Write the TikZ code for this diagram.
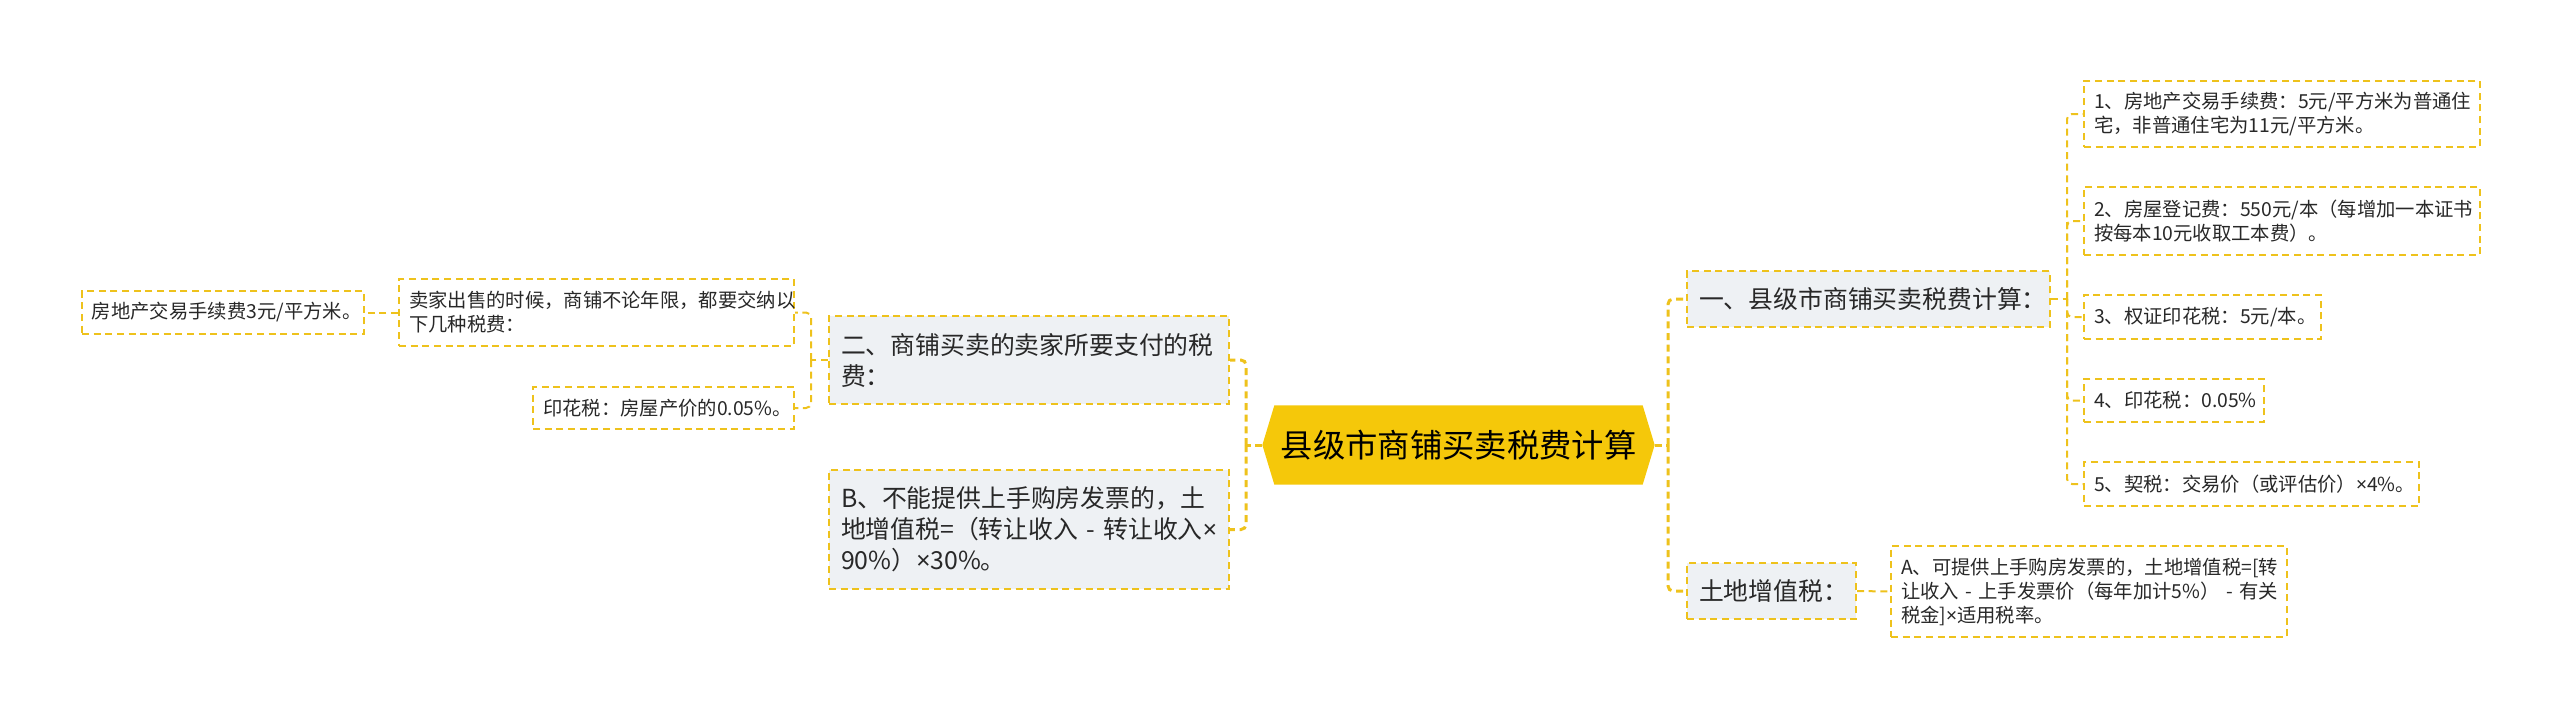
\documentclass[tikz,border=0pt]{standalone}
\usepackage{fontspec}
\setmainfont{Noto Sans CJK SC}
\newfontfamily\latinfont{Noto Sans}
\usepackage{xcolor}
\usetikzlibrary{calc}
\definecolor{linegold}{RGB}{238,194,28}
\definecolor{rootgold}{RGB}{245,200,10}
\definecolor{boxgray}{RGB}{238,241,244}
\definecolor{inkdark}{RGB}{40,40,40}
\newcommand{\tms}{{\latinfont ×}}
\pgfdeclarelayer{bg}
\pgfsetlayers{bg,main}

\begin{document}
\begin{tikzpicture}[x=0.3pt,y=-0.3pt]
    \useasboundingbox (0,0) rectangle (2560,718);

    \tikzstyle{gdash}=[draw=linegold,dash pattern=on 2.1pt off 1.4pt]
    \tikzstyle{root}=[font=\fontsize{9.7pt}{11pt}\selectfont,text=black,minimum width=117.3pt,minimum height=23.4pt,inner sep=0pt]
    \tikzstyle{branch}=[gdash,fill=boxgray,line width=0.6pt,font=\fontsize{7.45pt}{9.3pt}\selectfont,text=inkdark,align=left,inner xsep=3.6pt,inner ysep=0pt,anchor=west]
    \tikzstyle{leaf}=[gdash,line width=0.6pt,font=\fontsize{5.8pt}{7.2pt}\selectfont,text=inkdark,align=left,inner xsep=3pt,inner ysep=0pt,anchor=west]
    \tikzstyle{trunk}=[gdash,line width=0.9pt,rounded corners=1.5pt]
    \tikzstyle{twig}=[gdash,line width=0.6pt,rounded corners=1.5pt]

    \node[root] (root) at (1458.5,445) {县级市商铺买卖税费计算};
    \begin{pgfonlayer}{bg}
    \fill[rootgold] (root.west) -- ($(root.north west)+(12,0)$) -- ($(root.north east)+(-12,0)$)
        -- (root.east) -- ($(root.south east)+(-12,0)$) -- ($(root.south west)+(12,0)$) -- cycle;
    \end{pgfonlayer}

    % right half
    \node[branch,text width=101.7pt,minimum height=16.8pt] (b1) at (1686,299) {一、县级市商铺买卖税费计算：};
    \node[branch,text width=43.5pt,minimum height=16.8pt] (b3) at (1686,591) {土地增值税：};

    \node[leaf,text width=112.8pt,minimum height=19.8pt] (r1) at (2083,114) {1、房地产交易手续费：5元/平方米为普通住\\宅，非普通住宅为11元/平方米。};
    \node[leaf,text width=112.8pt,minimum height=20.4pt] (r2) at (2083,221) {2、房屋登记费：550元/本（每增加一本证书\\按每本10元收取工本费）。};
    \node[leaf,text width=65.1pt,minimum height=13.2pt] (r3) at (2083,317) {3、权证印花税：5元/本。};
    \node[leaf,text width=48pt,minimum height=12.9pt] (r4) at (2083,400.5) {4、印花税：0.05\%};
    \node[leaf,text width=94.5pt,minimum height=13.2pt] (r5) at (2083,484) {5、契税：交易价（或评估价）\tms{}4\%。};

    \node[leaf,text width=112.8pt,minimum height=27.3pt] (a1) at (1890,591.5) {A、可提供上手购房发票的，土地增值税=[转\\\mbox{让收入 - 上手发票价（每年加计5\%） - 有关}\\税金]\tms{}适用税率。};

    % left half
    \node[branch,text width=112.8pt,minimum height=26.4pt] (b2) at (828,360) {二、商铺买卖的卖家所要支付的税\\费：};
    \node[branch,text width=112.8pt,minimum height=35.7pt] (b4) at (828,529.5) {B、不能提供上手购房发票的，土\\\mbox{地增值税=（转让收入 - 转让收入\tms{}}\\90\%）\tms{}30\%。};

    \node[leaf,text width=112.5pt,minimum height=20.1pt] (l2) at (398,312.5) {卖家出售的时候，商铺不论年限，都要交纳以\\下几种税费：};
    \node[leaf,text width=72.3pt,minimum height=12.6pt] (l3) at (532,408) {印花税：房屋产价的0.05\%。};
    \node[leaf,text width=78.6pt,minimum height=12.9pt] (l1) at (81,312.5) {房地产交易手续费3元/平方米。};

    \coordinate (rt) at (1668,445);
    \coordinate (lt) at (1246,445);
    \coordinate (b1t) at (2067,299);
    \coordinate (b2t) at (811,360);

    \draw [trunk] (root.east) -- (rt);
    \draw [trunk] (rt) |- (b1.west);
    \draw [trunk] (rt) |- (b3.west);
    \draw [trunk] (root.west) -- (lt);
    \draw [trunk] (lt) |- (b2.east);
    \draw [trunk] (lt) |- (b4.east);

    \draw [twig] (b1.east) -- (b1t);
    \foreach \n in {r1,r2,r3,r4,r5}
        \draw [twig] (b1t) |- (\n.west);
    \draw [twig] (b3.east) -- (a1.west);

    \draw [twig] (b2.west) -- (b2t);
    \draw [twig] (b2t) |- (l2.east);
    \draw [twig] (b2t) |- (l3.east);
    \draw [twig] (l2.west) -- (l1.east);
\end{tikzpicture}
\end{document}
